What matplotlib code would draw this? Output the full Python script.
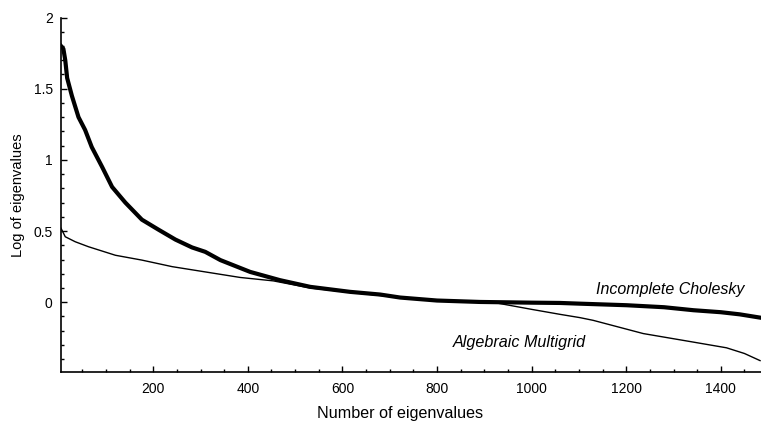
import matplotlib
matplotlib.use("Agg")
import matplotlib.pyplot as plt
from matplotlib.ticker import FixedLocator, MultipleLocator

plt.rcParams['font.family'] = ['Liberation Sans', 'DejaVu Sans']

# Incomplete Cholesky (thick curve)
ic_x = [5, 10, 14, 18, 28, 42, 56, 70, 92, 113, 141, 176, 211, 247, 282, 310,
        342, 405, 468, 532, 616, 680, 722, 800, 891, 1000, 1060, 1102, 1201,
        1280, 1342, 1400, 1440, 1483]
ic_y = [1.80, 1.78, 1.70, 1.575, 1.45, 1.30, 1.21, 1.09, 0.95, 0.81, 0.70,
        0.58, 0.51, 0.44, 0.385, 0.354, 0.296, 0.213, 0.155, 0.108, 0.073,
        0.054, 0.033, 0.012, 0.002, -0.003, -0.005, -0.01, -0.021, -0.035,
        -0.056, -0.07, -0.085, -0.108]

# Algebraic Multigrid (thin curve)
amg_x = [5, 14, 35, 63, 120, 176, 240, 310, 384, 454, 532, 616, 700, 800, 926,
         1000, 1060, 1102, 1130, 1236, 1342, 1412, 1450, 1483]
amg_y = [0.52, 0.46, 0.425, 0.39, 0.33, 0.296, 0.25, 0.213, 0.174, 0.15, 0.10,
         0.07, 0.04, 0.012, -0.005, -0.05, -0.085, -0.108, -0.127, -0.22,
         -0.28, -0.32, -0.36, -0.41]

x_ticks = [200, 400, 600, 800, 1000, 1200, 1400]
y_ticks = [0, 0.5, 1, 1.5, 2]
y_tick_labels = ["0", "0.5", "1", "1.5", "2"]

fig = plt.figure(figsize=(7.61, 4.23), dpi=100)
ax = fig.add_axes([61 / 761, 1 - 372 / 423, 1 - 61 / 761, (372 - 17.5) / 423])

ax.plot(ic_x, ic_y, color='black', lw=3.0, solid_joinstyle='round')
ax.plot(amg_x, amg_y, color='black', lw=1.0)

ax.set_xlim(5, 1485)
ax.set_ylim(-0.49, 2)

ax.xaxis.set_major_locator(FixedLocator(x_ticks))
ax.xaxis.set_minor_locator(MultipleLocator(50))
ax.yaxis.set_major_locator(FixedLocator(y_ticks))
ax.set_yticklabels(y_tick_labels)
ax.yaxis.set_minor_locator(MultipleLocator(0.1))

ax.tick_params(which='both', direction='in', labelsize=10, width=1)
ax.tick_params(which='major', length=4)
ax.tick_params(which='minor', length=2)
ax.tick_params(axis='x', pad=7)
ax.tick_params(axis='y', pad=6)

for s in ['top', 'right']:
    ax.spines[s].set_visible(False)
for s in ['left', 'bottom']:
    ax.spines[s].set_linewidth(1.2)

ax.set_xlabel("Number of eigenvalues", fontsize=11.6)
ax.xaxis.set_label_coords((400 - 61) / 700, -0.095)
ax.set_ylabel("Log of eigenvalues", fontsize=10.5)
ax.yaxis.set_label_coords(-0.052, 0.5)

ax.text(1292, 0.09, "Incomplete Cholesky", style='italic', fontsize=11.5,
        ha='center', va='center')
ax.text(975, -0.28, "Algebraic Multigrid", style='italic', fontsize=11.6,
        ha='center', va='center')

fig.savefig("out.png", dpi=100)
